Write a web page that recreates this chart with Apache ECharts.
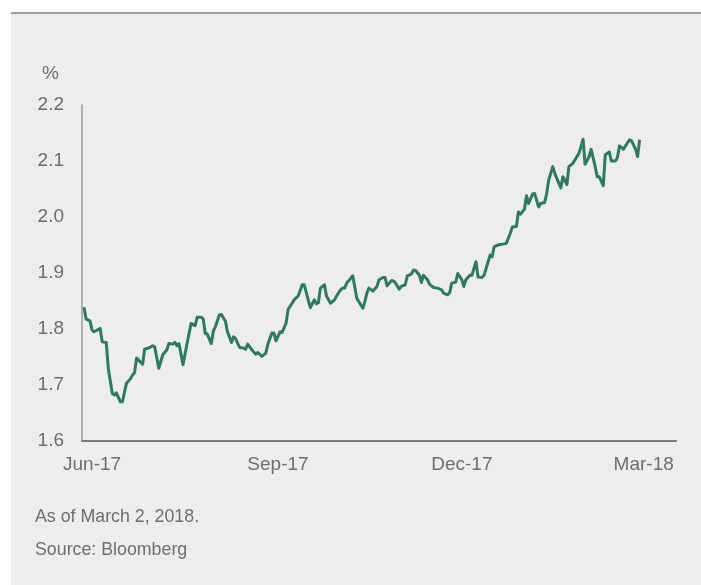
<!DOCTYPE html>
<html>
<head>
<meta charset="utf-8">
<script src="https://cdn.jsdelivr.net/npm/echarts@6/dist/echarts.min.js"></script>
<style>
  html, body { margin: 0; padding: 0; background: #ffffff; }
  #chart { width: 701px; height: 585px; }
</style>
</head>
<body>
<div id="chart"></div>
<script>
// Observation dates of the yield series
const dates = [
  '2017-05-28','2017-05-29','2017-05-31','2017-06-01','2017-06-02','2017-06-04','2017-06-05','2017-06-06','2017-06-08','2017-06-09',
  '2017-06-11','2017-06-12','2017-06-13','2017-06-15','2017-06-16','2017-06-18','2017-06-20','2017-06-21','2017-06-22','2017-06-23',
  '2017-06-26','2017-06-27','2017-06-29','2017-07-01','2017-07-02','2017-07-04','2017-07-06','2017-07-08','2017-07-09','2017-07-11',
  '2017-07-12','2017-07-13','2017-07-14','2017-07-16','2017-07-18','2017-07-20','2017-07-22','2017-07-23','2017-07-25','2017-07-26',
  '2017-07-27','2017-07-28','2017-07-30','2017-07-31','2017-08-01','2017-08-03','2017-08-04','2017-08-06','2017-08-07','2017-08-09',
  '2017-08-10','2017-08-11','2017-08-13','2017-08-15','2017-08-16','2017-08-17','2017-08-19','2017-08-20','2017-08-21','2017-08-22',
  '2017-08-24','2017-08-26','2017-08-27','2017-08-29','2017-08-30','2017-08-31','2017-09-02','2017-09-03','2017-09-05','2017-09-06',
  '2017-09-08','2017-09-09','2017-09-11','2017-09-13','2017-09-14','2017-09-17','2017-09-19','2017-09-20','2017-09-21','2017-09-22',
  '2017-09-24','2017-09-25','2017-09-27','2017-09-29','2017-09-30','2017-10-02','2017-10-03','2017-10-04','2017-10-05','2017-10-06',
  '2017-10-08','2017-10-10','2017-10-13','2017-10-14','2017-10-15','2017-10-16','2017-10-18','2017-10-20','2017-10-21','2017-10-23',
  '2017-10-24','2017-10-25','2017-10-27','2017-10-28','2017-10-29','2017-10-31','2017-11-01','2017-11-03','2017-11-04','2017-11-06',
  '2017-11-07','2017-11-08','2017-11-10','2017-11-11','2017-11-12','2017-11-14','2017-11-15','2017-11-17','2017-11-19','2017-11-21',
  '2017-11-22','2017-11-24','2017-11-25','2017-11-26','2017-11-28','2017-11-29','2017-12-01','2017-12-02','2017-12-03','2017-12-05',
  '2017-12-06','2017-12-08','2017-12-09','2017-12-11','2017-12-12','2017-12-13','2017-12-15','2017-12-16','2017-12-17','2017-12-19',
  '2017-12-20','2017-12-22','2017-12-23','2017-12-25','2017-12-26','2017-12-28','2017-12-29','2017-12-30','2018-01-01','2018-01-02',
  '2018-01-03','2018-01-05','2018-01-06','2018-01-08','2018-01-09','2018-01-11','2018-01-12','2018-01-13','2018-01-15','2018-01-16',
  '2018-01-17','2018-01-19','2018-01-20','2018-01-22','2018-01-23','2018-01-25','2018-01-26','2018-01-28','2018-01-29','2018-01-30',
  '2018-01-31','2018-02-02','2018-02-03','2018-02-05','2018-02-06','2018-02-07','2018-02-09','2018-02-10','2018-02-12','2018-02-13',
  '2018-02-15','2018-02-16','2018-02-17','2018-02-19','2018-02-20','2018-02-22','2018-02-23','2018-02-25','2018-02-26','2018-02-27'
];

// Yield, %
const yields = [
  1.839,1.818,1.814,1.798,1.795,1.799,1.801,1.777,1.776,1.730,
  1.685,1.682,1.686,1.670,1.670,1.703,1.711,1.718,1.722,1.748,
  1.737,1.764,1.766,1.770,1.768,1.730,1.754,1.763,1.774,1.773,
  1.776,1.770,1.774,1.736,1.774,1.810,1.806,1.821,1.821,1.818,
  1.792,1.791,1.774,1.796,1.804,1.825,1.826,1.814,1.795,1.776,
  1.786,1.783,1.767,1.766,1.764,1.773,1.763,1.759,1.755,1.758,
  1.751,1.757,1.773,1.793,1.793,1.779,1.795,1.794,1.810,1.835,
  1.846,1.852,1.859,1.879,1.879,1.838,1.852,1.845,1.847,1.873,
  1.879,1.859,1.846,1.852,1.859,1.870,1.873,1.873,1.882,1.886,
  1.895,1.855,1.837,1.849,1.864,1.873,1.868,1.876,1.888,1.892,
  1.892,1.877,1.886,1.886,1.883,1.871,1.876,1.879,1.895,1.898,
  1.905,1.905,1.896,1.883,1.896,1.888,1.880,1.874,1.873,1.870,
  1.864,1.861,1.865,1.882,1.884,1.899,1.888,1.876,1.888,1.896,
  1.896,1.920,1.893,1.892,1.896,1.908,1.932,1.929,1.947,1.950,
  1.951,1.952,1.953,1.971,1.982,1.983,2.009,2.005,2.014,2.038,
  2.024,2.041,2.042,2.018,2.024,2.026,2.042,2.066,2.090,2.078,
  2.069,2.052,2.072,2.058,2.090,2.096,2.102,2.114,2.126,2.139,
  2.094,2.108,2.121,2.090,2.072,2.072,2.056,2.111,2.116,2.100,
  2.100,2.106,2.127,2.121,2.127,2.138,2.136,2.121,2.108,2.138
];

// Dates that carry an axis label
const tickDates = ['2017-06-01', '2017-09-01', '2017-12-01', '2018-03-01'];
// Value axis range and step
const yMin = 1.6, yMax = 2.2, yStep = 0.1;

const axisStart = '2017-05-27';
const axisEnd = '2018-03-17';

const monthNames = ['Jan','Feb','Mar','Apr','May','Jun','Jul','Aug','Sep','Oct','Nov','Dec'];
const toTime = s => Date.UTC(+s.slice(0, 4), +s.slice(5, 7) - 1, +s.slice(8, 10));

const chart = echarts.init(document.getElementById('chart'), null, { renderer: 'canvas' });

const labelFont = 'Liberation Sans, Arial, sans-serif';
const textColor = '#6e6e6e';

chart.setOption({
  backgroundColor: '#ffffff',
  animation: false,
  grid: { left: 82, right: 25, top: 105, bottom: 144, containLabel: false },
  graphic: [
    // light panel behind the chart
    { type: 'rect', z: -10, shape: { x: 11, y: 13, width: 690, height: 580 }, style: { fill: '#ededed' } },
    // rule along the top of the panel
    { type: 'rect', z: -9, shape: { x: 11, y: 12, width: 690, height: 2 }, style: { fill: '#9c9c9c' } },
    { type: 'text', left: 42, top: 64, style: { text: '%', fill: textColor, font: '19px ' + labelFont } },
    { type: 'text', left: 35, top: 508, style: { text: 'As of March 2, 2018.', fill: textColor, font: '17.8px ' + labelFont } },
    { type: 'text', left: 35, top: 541, style: { text: 'Source: Bloomberg', fill: textColor, font: '17.8px ' + labelFont } }
  ],
  xAxis: {
    // dates held as UTC milliseconds on a linear scale
    type: 'value',
    min: toTime(axisStart),
    max: toTime(axisEnd),
    axisLine: { show: true, lineStyle: { color: '#7a7a7a', width: 2 } },
    axisTick: { show: false },
    splitLine: { show: false },
    axisLabel: {
      customValues: tickDates.map(toTime),
      color: textColor,
      fontFamily: labelFont,
      fontSize: 19,
      margin: 14,
      formatter: function (v) {
        const d = new Date(v);
        return monthNames[d.getUTCMonth()] + '-' + String(d.getUTCFullYear()).slice(2);
      }
    }
  },
  yAxis: {
    type: 'value',
    min: yMin,
    max: yMax,
    interval: yStep,
    axisLine: { show: true, lineStyle: { color: '#9a9a9a', width: 1.5 } },
    axisTick: { show: false },
    splitLine: { show: false },
    axisLabel: {
      color: textColor,
      fontFamily: labelFont,
      fontSize: 19,
      margin: 18,
      formatter: v => v.toFixed(1)
    }
  },
  series: [{
    type: 'line',
    data: dates.map((d, i) => [toTime(d), yields[i]]),
    showSymbol: false,
    smooth: false,
    lineStyle: { color: '#2f7a5d', width: 3, join: 'round' },
    itemStyle: { color: '#2f7a5d' }
  }]
});
</script>
</body>
</html>
